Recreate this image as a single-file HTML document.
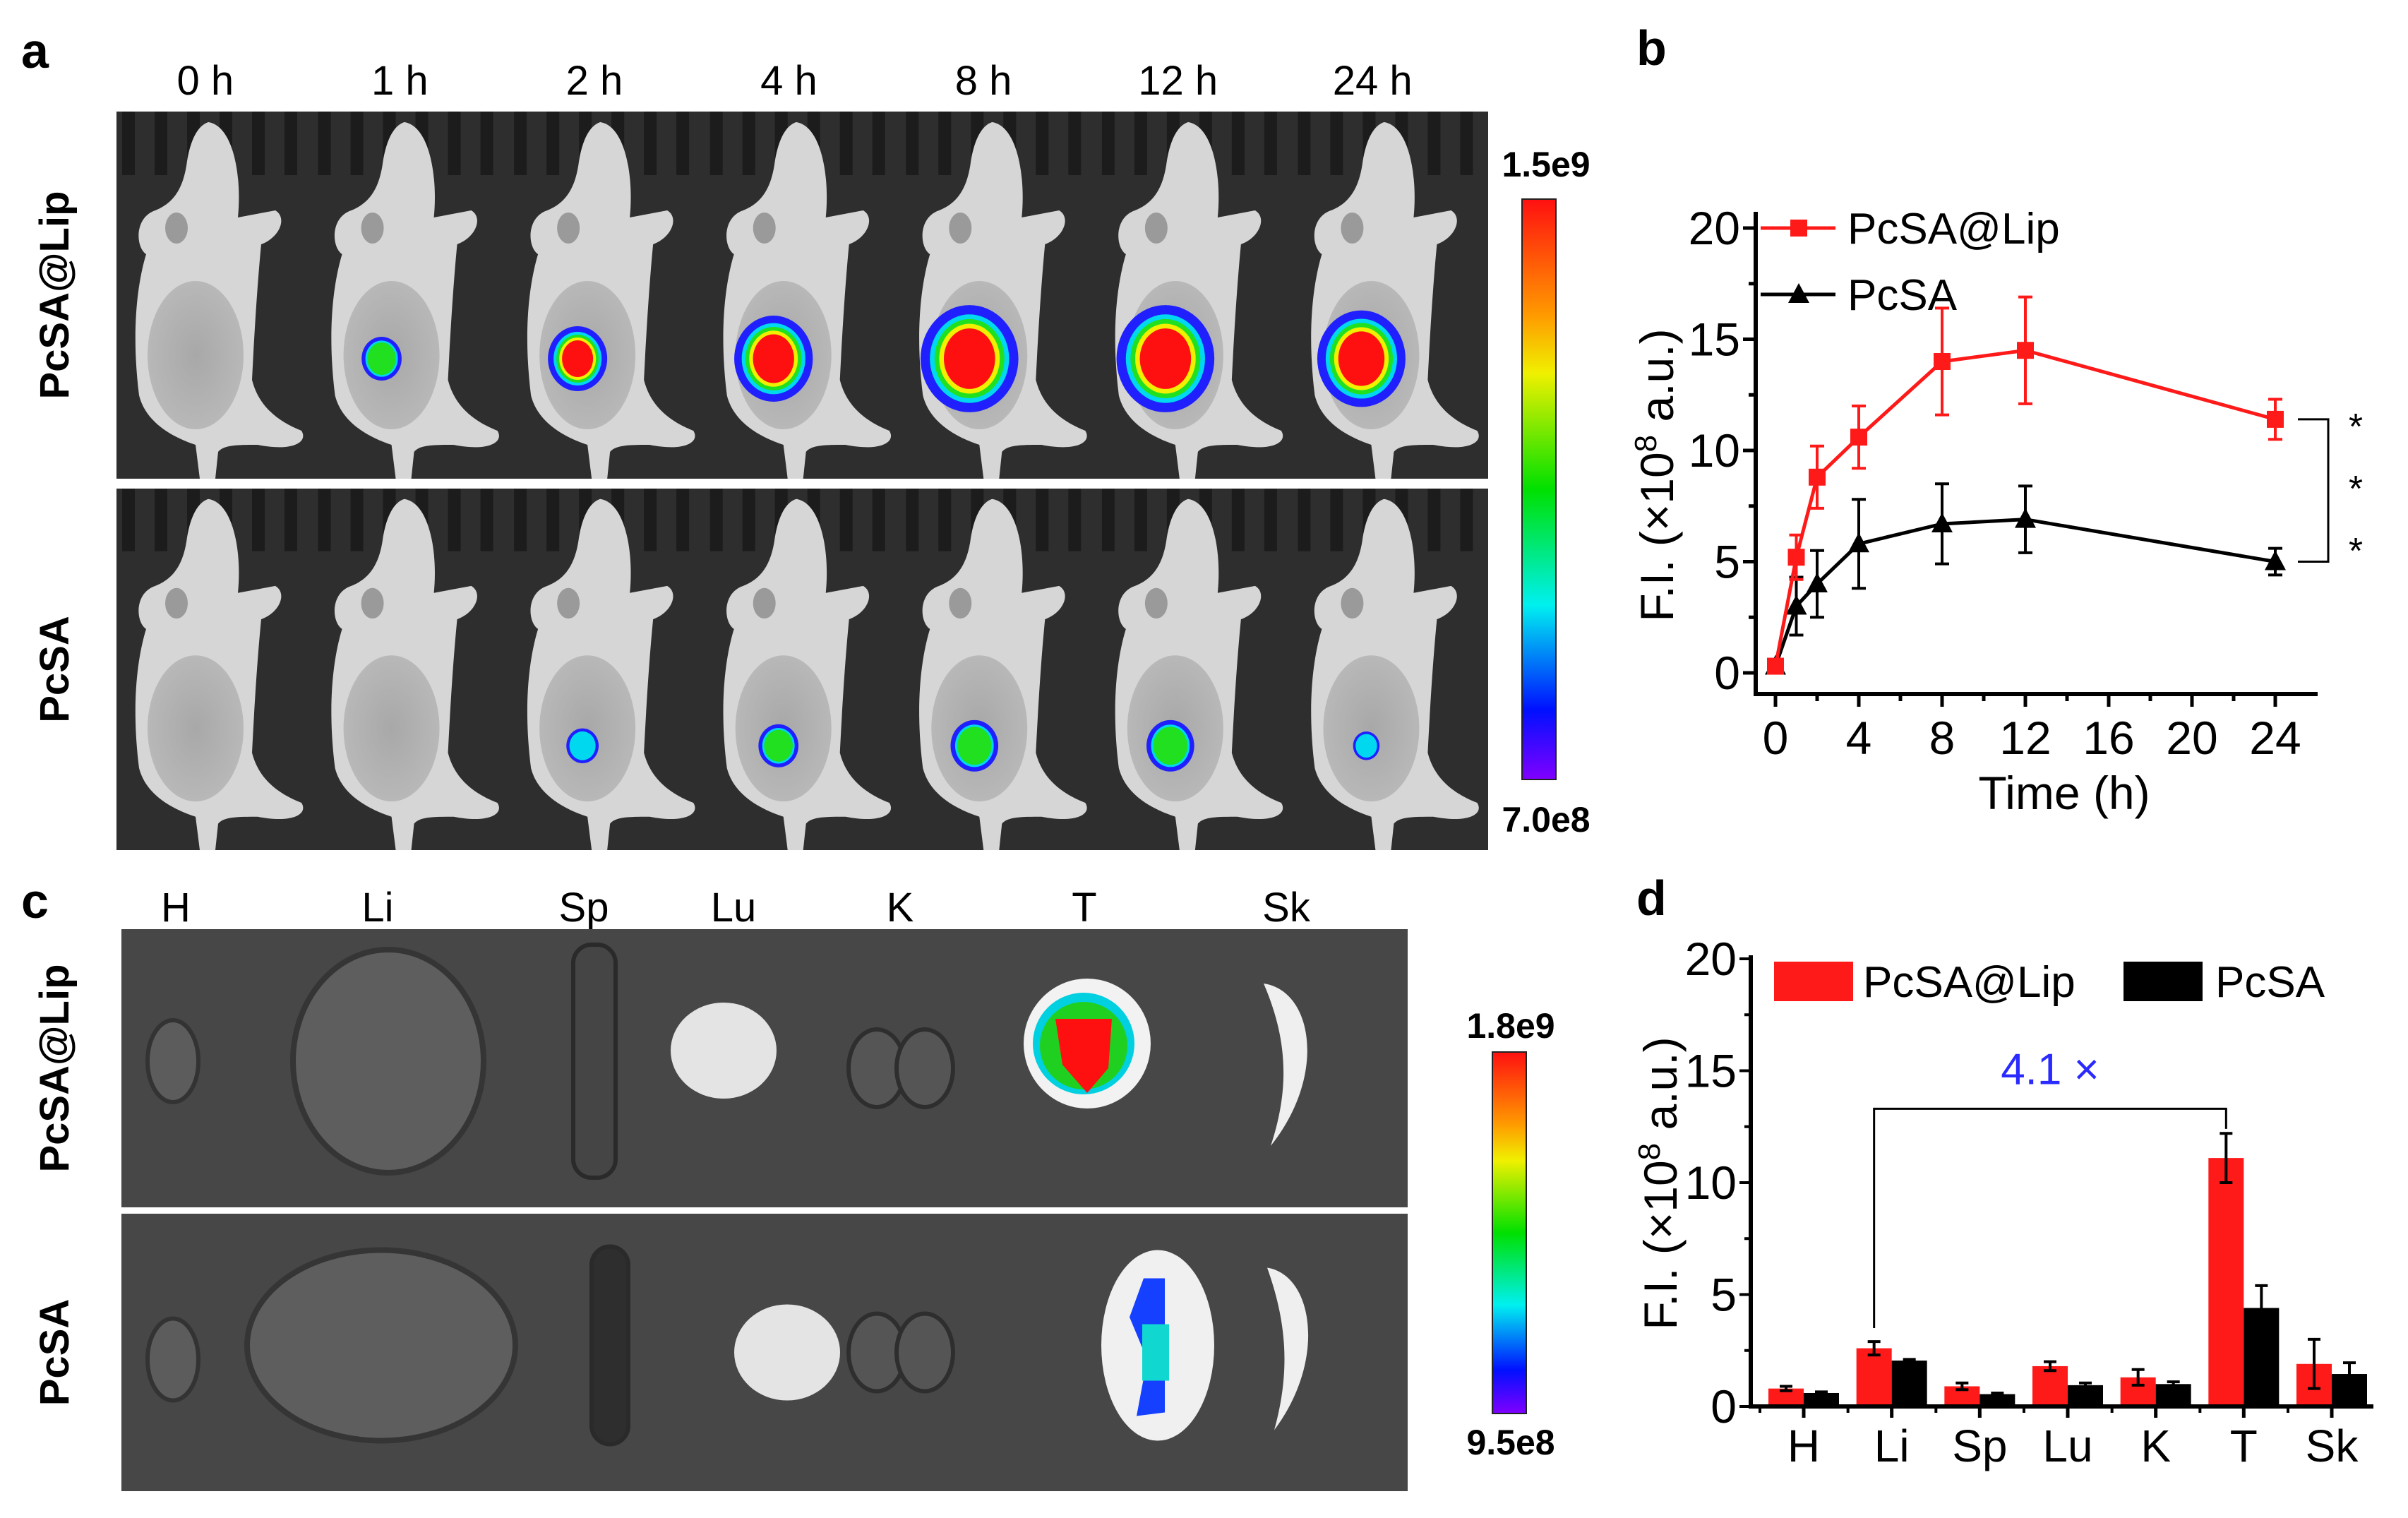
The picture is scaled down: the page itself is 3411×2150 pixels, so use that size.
<!DOCTYPE html>
<html><head><meta charset="utf-8">
<style>
html,body{margin:0;padding:0;background:#fff;}
#root{position:relative;width:3411px;height:2150px;overflow:hidden;font-family:"Liberation Sans",Arial,sans-serif;}
svg{position:absolute;left:0;top:0;}
</style></head>
<body>
<div id="root">
<svg id="fig" width="3411" height="2150" viewBox="0 0 3411 2150">
<defs>
<linearGradient id="cbar" x1="0" y1="0" x2="0" y2="1">
<stop offset="0" stop-color="#ff1010"/><stop offset="0.2" stop-color="#ff9a00"/><stop offset="0.3" stop-color="#f0f000"/>
<stop offset="0.5" stop-color="#00e000"/><stop offset="0.7" stop-color="#00f0f0"/><stop offset="0.88" stop-color="#0010ff"/><stop offset="1" stop-color="#8000ff"/>
</linearGradient>
<radialGradient id="bellyG" cx="0.5" cy="0.5" r="0.5"><stop offset="0" stop-color="#a8a8a8"/><stop offset="1" stop-color="#b8b8b8"/></radialGradient>
</defs>
<g id="panelA"></g>
<g id="panelC"></g>
<g id="panelB"></g>
<g id="panelD"></g>
</svg>
</div>
<script>
// ---- Panel b data ----
const bTimes = [0, 1, 2, 4, 8, 12, 24];
const bLipValues = [0.3, 5.2, 8.8, 10.6, 14.0, 14.5, 11.4];
const bLipErrors = [0.3, 1.0, 1.4, 1.4, 2.4, 2.4, 0.9];
const bPcsaValues = [0.3, 3.0, 4.0, 5.8, 6.7, 6.9, 5.0];
const bPcsaErrors = [0.2, 1.3, 1.5, 2.0, 1.8, 1.5, 0.6];
const bXTicks = [0, 4, 8, 12, 16, 20, 24];
const bYTicks = [0, 5, 10, 15, 20];
// ---- Panel d data ----
const dOrgans = ["H", "Li", "Sp", "Lu", "K", "T", "Sk"];
const dLipValues = [0.8, 2.6, 0.9, 1.8, 1.3, 11.1, 1.9];
const dLipErrors = [0.1, 0.3, 0.15, 0.2, 0.35, 1.1, 1.1];
const dPcsaValues = [0.6, 2.05, 0.55, 0.95, 1.0, 4.4, 1.45];
const dPcsaErrors = [0.05, 0.05, 0.05, 0.1, 0.1, 1.0, 0.5];
const dYTicks = [0, 5, 10, 15, 20];
// ---- Panel a labels ----
const aTimeLabels = ["0 h", "1 h", "2 h", "4 h", "8 h", "12 h", "24 h"];
const aLipSignal = [0, 1, 2, 3, 4, 4, 3.5];
const aPcsaSignal = [0, 0, 0.6, 1.0, 1.4, 1.4, 0.3];

const NS = "http://www.w3.org/2000/svg";
function mk(tag, attrs, parent, text) {
  const e = document.createElementNS(NS, tag);
  for (const k in attrs) e.setAttribute(k, attrs[k]);
  if (text !== undefined) e.textContent = text;
  parent.appendChild(e);
  return e;
}
const FONT = '"Liberation Sans", Arial, sans-serif';

// ================= PANEL A =================
const pa = document.getElementById("panelA");
let t = mk("text", {x: 30, y: 96, "font-size": 70, "font-weight": "bold", "font-family": FONT}, pa, "a");


const aX0 = 165, aX1 = 2108, cellW = (aX1 - aX0) / 7;
const rows = [{y: 158, h: 520, sig: aLipSignal, name: "PcSA@Lip"}, {y: 692, h: 512, sig: aPcsaSignal, name: "PcSA"}];
const mousePath = "M130,15 C165,20 178,90 172,150 L225,140 C242,150 232,178 205,188 C200,240 196,300 192,380 C202,420 232,440 262,452 C272,468 250,482 200,472 C172,472 152,472 144,482 L140,520 L118,520 L112,472 C82,462 42,442 32,402 C22,322 27,252 42,202 C27,192 25,150 55,140 C80,130 95,110 100,70 C105,40 115,20 130,15 Z";
function blob(g, cx, cy, s) {
  if (s <= 0) return;
  const r = 14 + s * 13;
  mk("ellipse", {cx: cx, cy: cy, rx: r * 1.05, ry: r * 1.15, fill: "#2020ff"}, g);
  mk("ellipse", {cx: cx, cy: cy, rx: r * 0.85, ry: r * 0.95, fill: "#00d8f0"}, g);
  if (s >= 1) mk("ellipse", {cx: cx, cy: cy, rx: r * 0.75, ry: r * 0.85, fill: "#20e020"}, g);
  if (s >= 1.5) mk("ellipse", {cx: cx, cy: cy, rx: r * 0.65, ry: r * 0.75, fill: "#f0f000"}, g);
  if (s >= 1.8) mk("ellipse", {cx: cx, cy: cy, rx: r * 0.55, ry: r * 0.65, fill: "#ff1010"}, g);
}
rows.forEach((row, ri) => {
  const bg = mk("rect", {x: aX0, y: row.y, width: aX1 - aX0, height: row.h, fill: "#2e2e2e"}, pa);
  
  
  for (let i = 0; i < 7; i++) {
    const g = mk("g", {transform: `translate(${aX0 + i * cellW},${row.y}) scale(1,${row.h / 520})`}, pa);
    
    
    for (let k = 0; k < 6; k++) mk("rect", {x: 8 + k * 46, y: 0, width: 18, height: 90, fill: "#1c1c1c"}, g);
    mk("path", {d: mousePath, fill: "#d6d6d6"}, g);
    mk("ellipse", {cx: 112, cy: 345, rx: 68, ry: 105, fill: "url(#bellyG)"}, g);
    mk("ellipse", {cx: 85, cy: 165, rx: 16, ry: 22, fill: "#9a9a9a"}, g);
    blob(g, ri === 0 ? 98 : 105, ri === 0 ? 350 : 370, row.sig[i]);
  }
  const lab = mk("text", {x: 0, y: 0, "font-size": 58, "font-weight": "bold", "font-family": FONT, "text-anchor": "middle",
    transform: `translate(97,${row.y + row.h / 2}) rotate(-90)`}, pa, row.name);
  
  
});
aTimeLabels.forEach((s, i) => {
  const tx = mk("text", {x: aX0 + (i + 0.5) * cellW - 13 - i * 2, y: 134, "font-size": 58, "font-family": FONT, "text-anchor": "middle"}, pa, s);
  
  
});
let cb = mk("rect", {x: 2156, y: 282, width: 48, height: 822, fill: "url(#cbar)", stroke: "#222", "stroke-width": 2}, pa);


t = mk("text", {x: 2190, y: 250, "font-size": 50, "font-weight": "bold", "font-family": FONT, "text-anchor": "middle"}, pa, "1.5e9");


t = mk("text", {x: 2190, y: 1178, "font-size": 50, "font-weight": "bold", "font-family": FONT, "text-anchor": "middle"}, pa, "7.0e8");



// ================= PANEL C =================
const pc = document.getElementById("panelC");
t = mk("text", {x: 30, y: 1300, "font-size": 70, "font-weight": "bold", "font-family": FONT}, pc, "c");


const organX = [249, 535, 827, 1039, 1275, 1536, 1822];
organX.forEach((x, i) => {
  const tx = mk("text", {x: x, y: 1305, "font-size": 58, "font-family": FONT, "text-anchor": "middle"}, pc, dOrgans[i]);
  
  
});
const cRows = [{y: 1316, h: 394, name: "PcSA@Lip"}, {y: 1719, h: 393, name: "PcSA"}];
cRows.forEach((row, ri) => {
  const bg = mk("rect", {x: 172, y: row.y, width: 1822, height: row.h, fill: "#474747"}, pc);
  
  
  const cy = row.y + row.h / 2 - 10;
  const g = mk("g", {}, pc);
  
  
  mk("ellipse", {cx: 245, cy: cy + (ri ? 20 : 0), rx: 36, ry: 58, fill: "#5c5c5c", stroke: "#333", "stroke-width": 6}, g);
  mk("ellipse", {cx: ri ? 540 : 550, cy: cy, rx: ri ? 190 : 135, ry: ri ? 135 : 158, fill: "#5e5e5e", stroke: "#353535", "stroke-width": 8}, g);
  mk("rect", {x: ri ? 838 : 812, y: cy - (ri ? 140 : 165), width: ri ? 52 : 60, height: ri ? 280 : 330, rx: 26, fill: ri ? "#2e2e2e" : "#454545", stroke: "#2a2a2a", "stroke-width": 6}, g);
  mk("ellipse", {cx: ri ? 1115 : 1025, cy: cy - (ri ? -10 : 15), rx: 75, ry: 68, fill: "#e4e4e4"}, g);
  mk("ellipse", {cx: 1242, cy: cy + 10, rx: 40, ry: 55, fill: "#555", stroke: "#2e2e2e", "stroke-width": 6}, g);
  mk("ellipse", {cx: 1310, cy: cy + 10, rx: 40, ry: 55, fill: "#555", stroke: "#2e2e2e", "stroke-width": 6}, g);
  if (ri === 0) {
    mk("ellipse", {cx: 1540, cy: cy - 25, rx: 90, ry: 92, fill: "#f2f2f2"}, g);
    mk("ellipse", {cx: 1535, cy: cy - 25, rx: 72, ry: 72, fill: "#00d0e0"}, g);
    mk("ellipse", {cx: 1535, cy: cy - 22, rx: 62, ry: 62, fill: "#20d020"}, g);
    mk("path", {d: `M1495,${cy - 60} L1575,${cy - 60} L1570,${cy + 10} L1540,${cy + 45} L1505,${cy + 5} Z`, fill: "#ff1010"}, g);
  } else {
    mk("ellipse", {cx: 1640, cy: cy, rx: 80, ry: 135, fill: "#f0f0f0"}, g);
    mk("path", {d: `M1620,${cy - 95} L1650,${cy - 95} L1650,${cy + 95} L1610,${cy + 100} L1625,${cy + 20} L1600,${cy - 40} Z`, fill: "#1540ff"}, g);
    mk("rect", {x: 1618, y: cy - 30, width: 38, height: 80, fill: "#10d8d0"}, g);
  }
  mk("path", {d: `M${1790 + ri * 5},${cy - 110} C1860,${cy - 100} 1880,${cy + 20} ${1800 + ri * 5},${cy + 120} C1830,${cy + 30} 1820,${cy - 40} ${1790 + ri * 5},${cy - 110} Z`, fill: "#efefef"}, g);
  const lab = mk("text", {x: 0, y: 0, "font-size": 58, "font-weight": "bold", "font-family": FONT, "text-anchor": "middle",
    transform: `translate(97,${row.y + row.h / 2}) rotate(-90)`}, pc, row.name);
  
  
});
cb = mk("rect", {x: 2114, y: 1490, width: 48, height: 512, fill: "url(#cbar)", stroke: "#222", "stroke-width": 2}, pc);


t = mk("text", {x: 2140, y: 1470, "font-size": 50, "font-weight": "bold", "font-family": FONT, "text-anchor": "middle"}, pc, "1.8e9");


t = mk("text", {x: 2140, y: 2060, "font-size": 50, "font-weight": "bold", "font-family": FONT, "text-anchor": "middle"}, pc, "9.5e8");



// ================= PANEL B =================
const pb = document.getElementById("panelB");
t = mk("text", {x: 2318, y: 92, "font-size": 70, "font-weight": "bold", "font-family": FONT}, pb, "b");


const bAxX = 2487, bAxY = 983, bAxEnd = 3283;
const bx = v => 2515 + v * (3223 - 2515) / 24;
const by = v => 953 - v * (953 - 323) / 20;
mk("line", {x1: bAxX, y1: 300, x2: bAxX, y2: bAxY + 2, stroke: "#000", "stroke-width": 6}, pb);
mk("line", {x1: bAxX - 3, y1: bAxY, x2: bAxEnd, y2: bAxY, stroke: "#000", "stroke-width": 6}, pb);
for (let v = 0; v <= 24; v += 2) mk("line", {x1: bx(v), y1: bAxY, x2: bx(v), y2: bAxY + (v % 4 === 0 ? 18 : 10), stroke: "#000", "stroke-width": 5}, pb);
for (let v = 0; v <= 20; v += 2.5) mk("line", {x1: bAxX, y1: by(v), x2: bAxX - (v % 5 === 0 ? 18 : 10), y2: by(v), stroke: "#000", "stroke-width": 5}, pb);
bXTicks.forEach(v => {
  const tx = mk("text", {x: bx(v), y: 1068, "font-size": 66, "font-family": FONT, "text-anchor": "middle"}, pb, String(v));
  
  
});
bYTicks.forEach(v => {
  const tx = mk("text", {x: bAxX - 22, y: by(v) + 23, "font-size": 66, "font-family": FONT, "text-anchor": "end"}, pb, String(v));
  
  
});
t = mk("text", {x: 2924, y: 1146, "font-size": 66, "font-family": FONT, "text-anchor": "middle"}, pb, "Time (h)");


t = mk("text", {x: 0, y: 0, "font-size": 66, "font-family": FONT, "text-anchor": "middle", transform: "translate(2370,673) rotate(-90)"}, pb);


t.innerHTML = 'F.I. (×10<tspan baseline-shift="super" font-size="44">8</tspan> a.u.)';
function series(g, vals, errs, color, marker, name) {
  const pts = bTimes.map((x, i) => `${bx(x)},${by(vals[i])}`).join(" ");
  const pl = mk("polyline", {points: pts, fill: "none", stroke: color, "stroke-width": 5}, g);
  
  
  bTimes.forEach((x, i) => {
    const cx = bx(x), hi = by(vals[i] + errs[i]), lo = by(vals[i] - errs[i]);
    const eb = mk("path", {d: `M${cx},${hi} V${lo} M${cx - 10},${hi} H${cx + 10} M${cx - 10},${lo} H${cx + 10}`, stroke: color, "stroke-width": 4, fill: "none"}, g);
    
    
    const cy = by(vals[i]);
    let m;
    if (marker === "sq") m = mk("rect", {x: cx - 12, y: cy - 12, width: 24, height: 24, fill: color}, g);
    else m = mk("path", {d: `M${cx},${cy - 16} L${cx + 15},${cy + 12} L${cx - 15},${cy + 12} Z`, fill: color}, g);
    
    
  });
}
series(pb, bPcsaValues, bPcsaErrors, "#000", "tri", "pcsa");
series(pb, bLipValues, bLipErrors, "#ff1a1a", "sq", "pcsa-lip");
let lg = mk("g", {}, pb);


mk("line", {x1: 2494, y1: by(20), x2: 2600, y2: by(20), stroke: "#ff1a1a", "stroke-width": 5}, lg);
mk("rect", {x: 2536, y: by(20) - 12, width: 24, height: 24, fill: "#ff1a1a"}, lg);
mk("text", {x: 2617, y: by(20) + 22, "font-size": 62, "font-family": FONT}, lg, "PcSA@Lip");
lg = mk("g", {}, pb);


mk("line", {x1: 2494, y1: 417, x2: 2600, y2: 417, stroke: "#000", "stroke-width": 5}, lg);
mk("path", {d: "M2548,401 L2563,429 L2533,429 Z", fill: "#000"}, lg);
mk("text", {x: 2617, y: 439, "font-size": 62, "font-family": FONT}, lg, "PcSA");
const sb = mk("path", {d: `M3255,${by(bLipValues[6])} H3298 V${by(bPcsaValues[6])} H3255`, stroke: "#000", "stroke-width": 3, fill: "none"}, pb);


[622, 710, 798].forEach((y, i) => {
  const s = mk("text", {x: 3337, y: y, "font-size": 52, "font-family": FONT, "text-anchor": "middle"}, pb, "*");
  
  
});

// ================= PANEL D =================
const pd = document.getElementById("panelD");
t = mk("text", {x: 2318, y: 1296, "font-size": 70, "font-weight": "bold", "font-family": FONT}, pd, "d");


const dAxX = 2480, dAxY = 1992, dAxEnd = 3362;
const dx = i => 2555 + i * (3303 - 2555) / 6;
const dy = v => dAxY - v * (dAxY - 1358) / 20;
const barW = 50;
dOrgans.forEach((o, i) => {
  [[dLipValues, dLipErrors, "#ff1a1a", -barW, "lip"], [dPcsaValues, dPcsaErrors, "#000", 0, "pcsa"]].forEach(([vals, errs, col, off, nm]) => {
    const x = dx(i) + off, v = vals[i];
    const r = mk("rect", {x: x, y: dy(v), width: barW, height: dAxY - dy(v), fill: col}, pd);
    
    
    const cx = x + barW / 2, hi = dy(v + errs[i]), lo = dy(v - errs[i]);
    const eb = mk("path", {d: `M${cx},${hi} V${lo} M${cx - 9},${hi} H${cx + 9} M${cx - 9},${lo} H${cx + 9}`, stroke: "#000", "stroke-width": 4, fill: "none"}, pd);
    
    
  });
  const tx = mk("text", {x: dx(i), y: 2070, "font-size": 64, "font-family": FONT, "text-anchor": "middle"}, pd, o);
  
  
  mk("line", {x1: dx(i), y1: dAxY, x2: dx(i), y2: dAxY + 16, stroke: "#000", "stroke-width": 5}, pd);
  mk("line", {x1: dx(i) - 62, y1: dAxY, x2: dx(i) - 62, y2: dAxY + 9, stroke: "#000", "stroke-width": 4}, pd);
});
mk("line", {x1: dAxX, y1: 1353, x2: dAxX, y2: dAxY + 2, stroke: "#000", "stroke-width": 6}, pd);
mk("line", {x1: dAxX - 3, y1: dAxY, x2: dAxEnd, y2: dAxY, stroke: "#000", "stroke-width": 6}, pd);
for (let v = 0; v <= 20; v += 2.5) mk("line", {x1: dAxX, y1: dy(v), x2: dAxX - (v % 5 === 0 ? 16 : 9), y2: dy(v), stroke: "#000", "stroke-width": 4}, pd);
dYTicks.forEach(v => {
  const tx = mk("text", {x: dAxX - 20, y: dy(v) + 23, "font-size": 66, "font-family": FONT, "text-anchor": "end"}, pd, String(v));
  
  
});
t = mk("text", {x: 0, y: 0, "font-size": 66, "font-family": FONT, "text-anchor": "middle", transform: "translate(2375,1676) rotate(-90)"}, pd);


t.innerHTML = 'F.I. (×10<tspan baseline-shift="super" font-size="44">8</tspan> a.u.)';
lg = mk("g", {}, pd);


mk("rect", {x: 2513, y: 1362, width: 112, height: 56, fill: "#ff1a1a"}, lg);
mk("text", {x: 2639, y: 1412, "font-size": 62, "font-family": FONT}, lg, "PcSA@Lip");
lg = mk("g", {}, pd);


mk("rect", {x: 3008, y: 1362, width: 112, height: 56, fill: "#000"}, lg);
mk("text", {x: 3138, y: 1412, "font-size": 62, "font-family": FONT}, lg, "PcSA");
const liX = dx(1) - barW / 2, tX = dx(5) - barW / 2, brY = dy(13.3);
const fb = mk("path", {d: `M${liX},${dy(dLipValues[1] + 0.9)} V${brY} H${tX} V${dy(dLipValues[5] + 1.3)}`, stroke: "#000", "stroke-width": 3, fill: "none"}, pd);


t = mk("text", {x: (liX + tX) / 2, y: dy(14.4), "font-size": 62, "font-family": FONT, "text-anchor": "middle", fill: "#2a2aff"}, pd, "4.1 ×");


</script>
</body></html>
